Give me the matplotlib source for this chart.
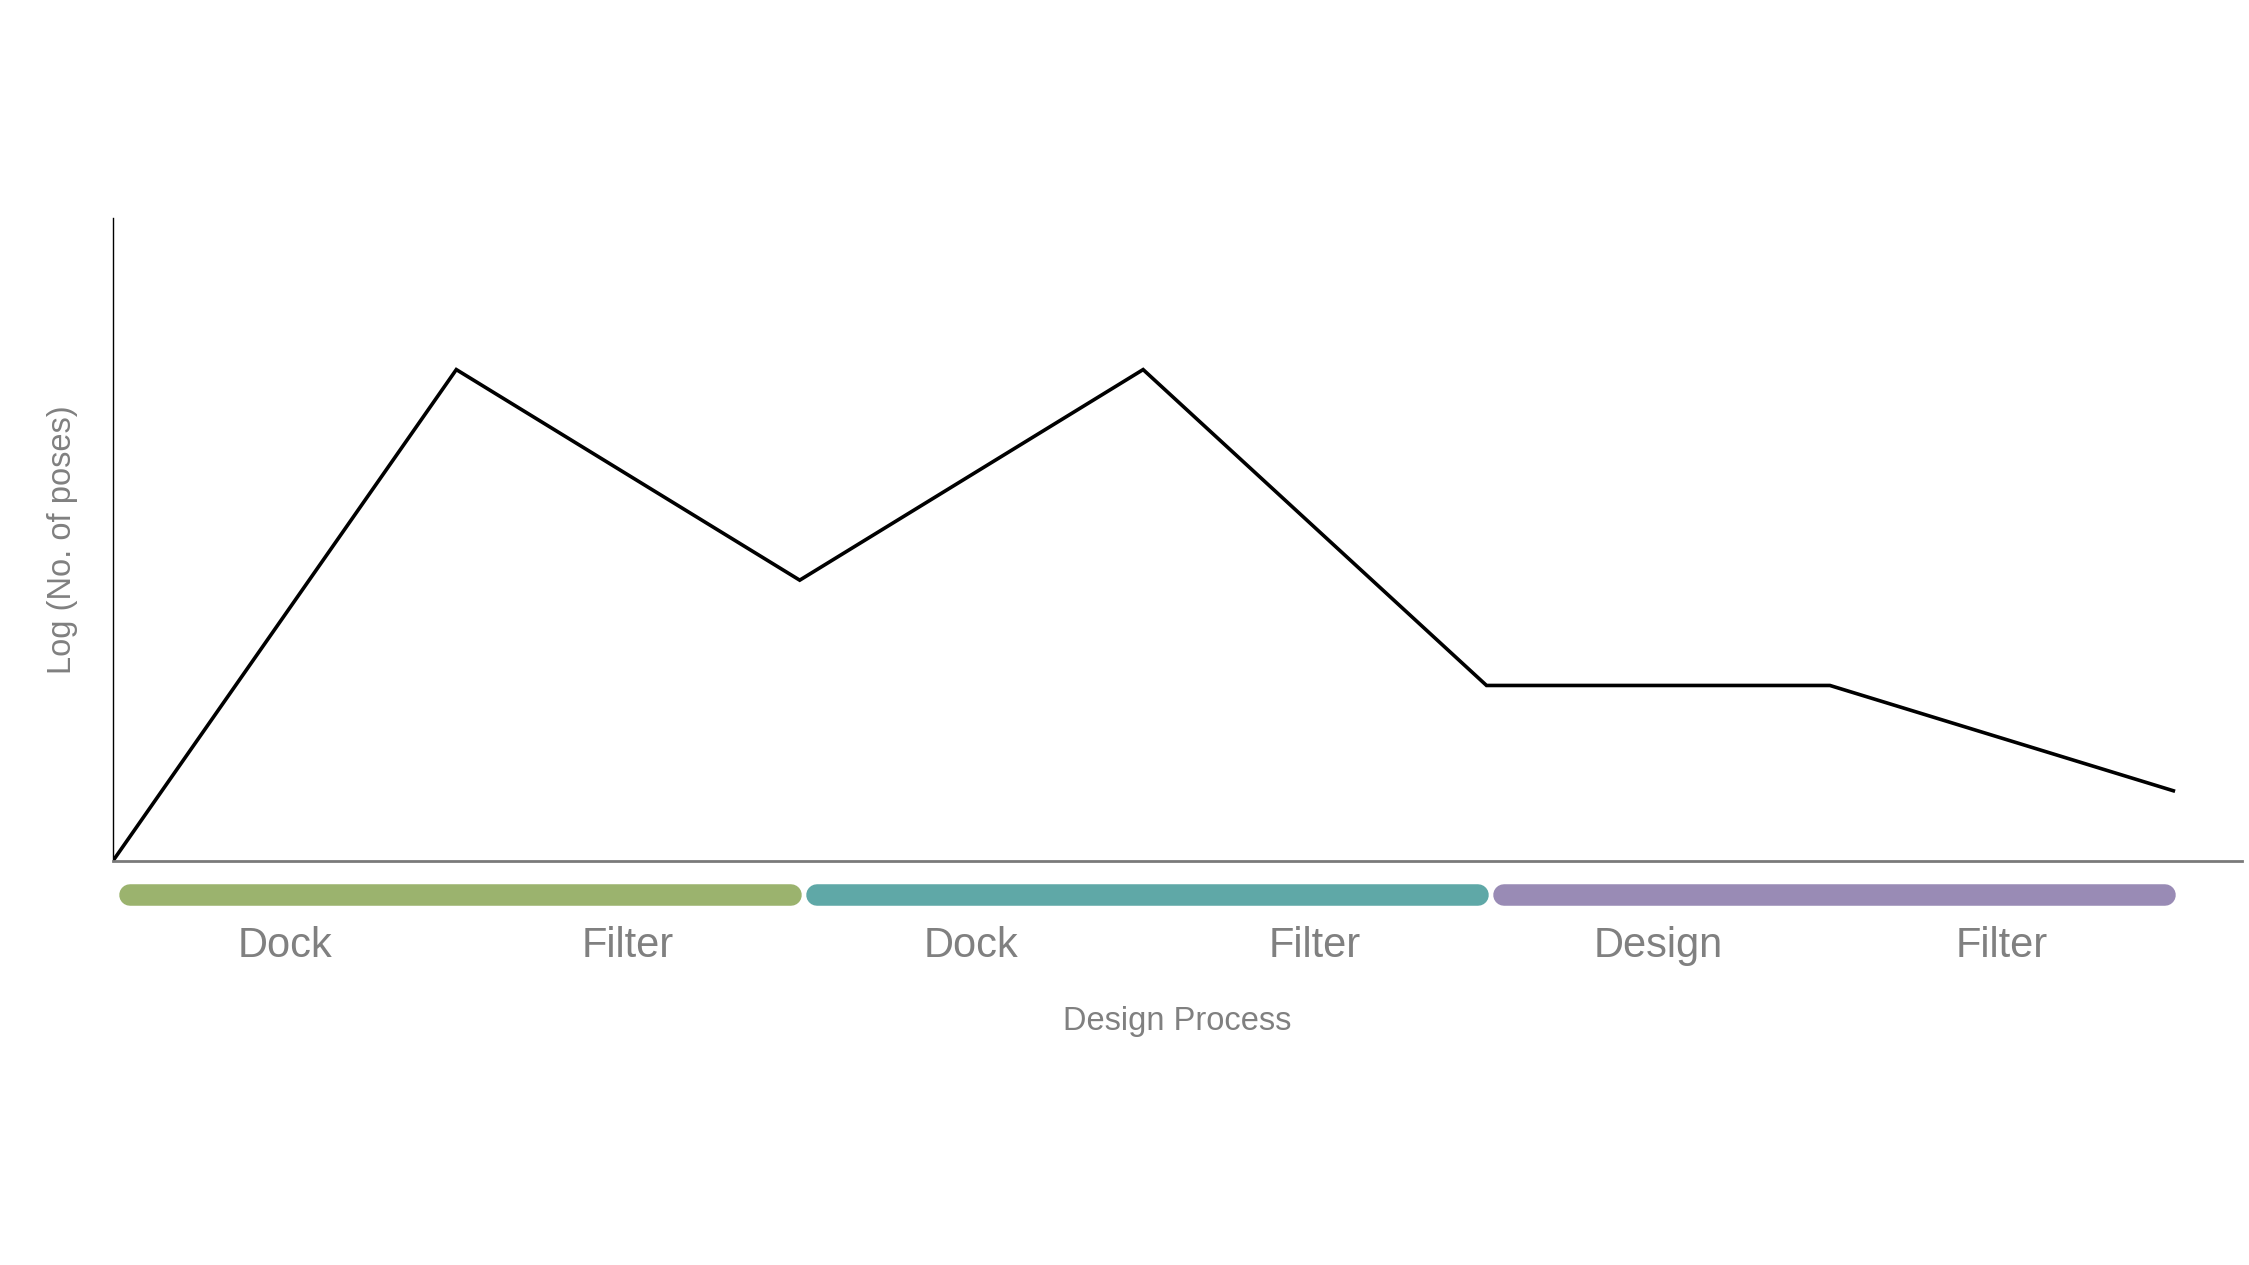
import numpy as np
import matplotlib.pyplot as plt
from matplotlib.transforms import blended_transform_factory

# data: log of number of poses at each stage boundary
steps = [0, 1, 2, 3, 4, 5, 6]
log_poses = [0, 7, 4, 7, 2.5, 2.5, 1]

stage_labels = ['Dock', 'Filter', 'Dock', 'Filter', 'Design', 'Filter']
stage_pos = [0.5, 1.5, 2.5, 3.5, 4.5, 5.5]

# colored phase bars (start, end) and colours
phase_start = [0, 2, 4]
phase_end = [2, 4, 6]
phase_colors = ['#9bb36e', '#5fa8a7', '#998bb5']

plt.rcParams['font.family'] = ['Liberation Sans', 'DejaVu Sans']

fig = plt.figure(figsize=(22.49, 12.65), dpi=100)
ax = fig.add_axes([0.0502, 0.3194, 0.9467, 0.5083])

ax.plot(steps, log_poses, color='black', lw=2.6, solid_joinstyle='miter')

ax.set_xlim(0, 6.2)
ax.set_ylim(0, 9.16)

for s in ['top', 'right']:
    ax.spines[s].set_visible(False)
ax.spines['left'].set_color('black')
ax.spines['left'].set_linewidth(1.0)
ax.spines['bottom'].set_color('#7a7a7a')
ax.spines['bottom'].set_linewidth(2.0)
ax.set_xticks([])
ax.set_yticks([])

trans = blended_transform_factory(ax.transData, ax.transAxes)
for x0, x1, c in zip(phase_start, phase_end, phase_colors):
    ax.plot([x0 + 0.05, x1 - 0.025], [-0.053, -0.053], transform=trans, color=c,
            lw=15.5, solid_capstyle='round', clip_on=False)

for x, lab in zip(stage_pos, stage_labels):
    ax.text(x, -0.1325, lab, transform=trans, ha='center', va='center',
            fontsize=30, color='#808080')

ax.set_xlabel('Design Process', fontsize=23.5, color='#808080')
ax.xaxis.label.set_va('center')
ax.xaxis.set_label_coords(0.5, -0.25)
ax.set_ylabel('Log (No. of poses)', fontsize=23.5, color='#808080')
ax.yaxis.label.set_va('center')
ax.yaxis.set_label_coords(-0.0235, 0.5)

fig.savefig('out.png', dpi=100, facecolor='white')
